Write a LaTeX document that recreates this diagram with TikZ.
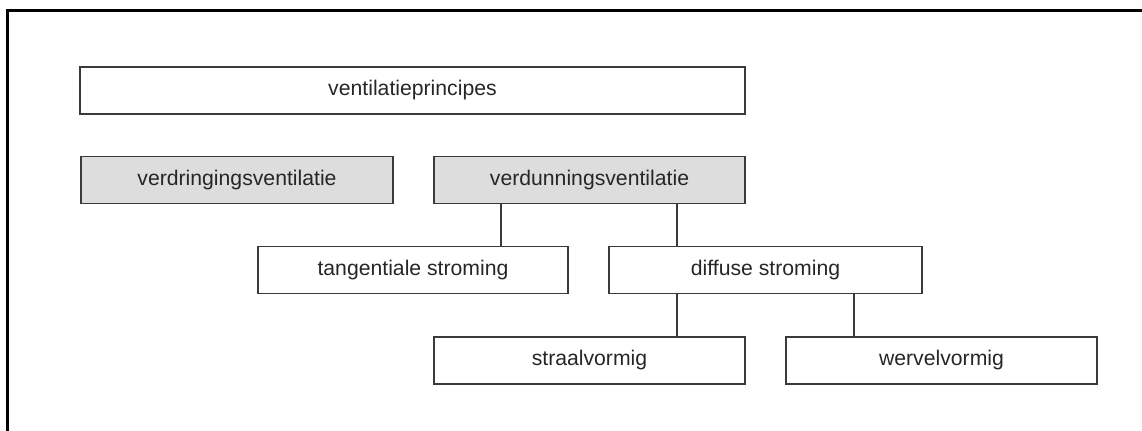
\documentclass[tikz,border=0pt]{standalone}
\usepackage{fontspec}
\setmainfont{Liberation Sans}
\definecolor{lijn}{HTML}{3A3A3A}
\definecolor{vlak}{HTML}{DDDDDD}
\tikzset{
  blok/.style={rectangle, draw=lijn, line width=0.7pt, inner sep=0pt,
               minimum width=#1*0.5pt, minimum height=23.5pt,
               text=black!85, font=\fontsize{10.6}{12}\selectfont},
  grijs/.style={blok=#1, fill=vlak},
  tak/.style={draw=lijn, line width=0.7pt}
}
\begin{document}
\begin{tikzpicture}[x=0.5pt, y=-0.5pt]
  \useasboundingbox (0,0) rectangle (1142,431);
  % kader
  \draw[black, line width=1.5pt] (7.5,431) -- (7.5,10.5) -- (1142,10.5);
  % bovenste niveau
  \node[blok=665] (princ) at (412.5,90.5) {ventilatieprincipes};
  \node[grijs=312] (verdr) at (237,180) {verdringingsventilatie};
  \node[grijs=311] (verdun) at (589.5,180) {verdunningsventilatie};
  % stromingen
  \node[blok=310] (tang) at (413,270) {tangentiale stroming};
  \node[blok=313] (diff) at (765.5,270) {diffuse stroming};
  % onderste niveau
  \node[blok=311] (straal) at (589.5,360.5) {straalvormig};
  \node[blok=311] (wervel) at (941.5,360.5) {wervelvormig};
  % verbindingen
  \coordinate (k1) at (501,0);
  \coordinate (k2) at (677,0);
  \coordinate (k3) at (854,0);
  \draw[tak] (verdun.south -| k1) -- (tang.north -| k1);
  \draw[tak] (verdun.south -| k2) -- (diff.north -| k2);
  \draw[tak] (diff.south -| k2) -- (straal.north -| k2);
  \draw[tak] (diff.south -| k3) -- (wervel.north -| k3);
\end{tikzpicture}
\end{document}
